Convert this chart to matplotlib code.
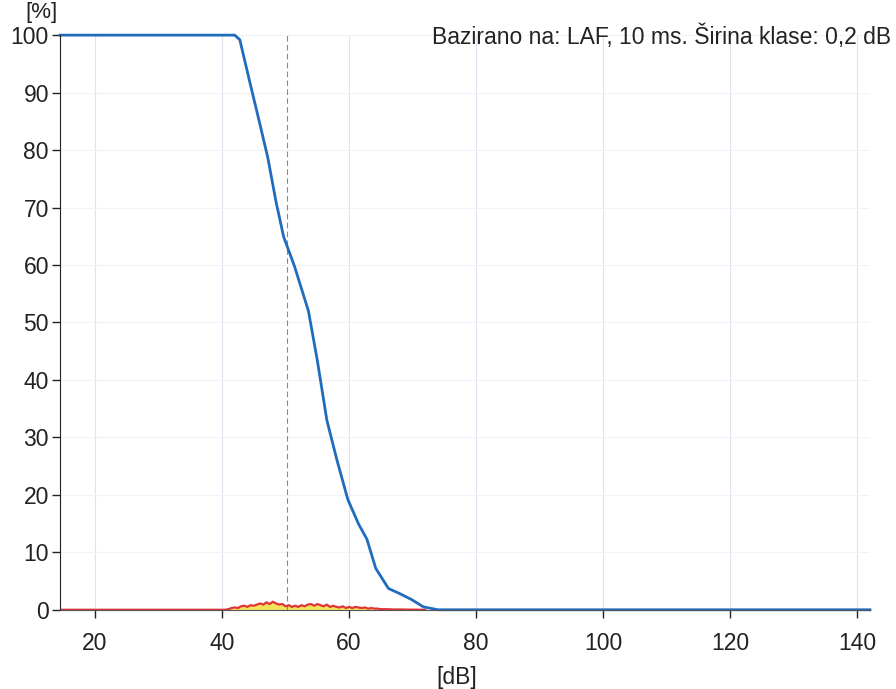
import matplotlib.pyplot as plt

# cumulative distribution [%] vs level [dB]
cum_db = [14.5, 30, 42.0, 42.8, 44.4, 45.9, 47.2, 48.5, 49.7, 51.4, 53.6, 55.0, 56.5,
          58.1, 59.8, 61.5, 62.8, 64.2, 66.2, 67.8, 69.8, 71.7, 74, 100, 142]
cum_pct = [100, 100, 100, 99.2, 91.7, 84.8, 78.7, 71.0, 64.9, 59.8, 52.0, 43.4, 33.0,
           26.0, 19.2, 14.9, 12.3, 7.2, 3.7, 2.9, 1.8, 0.5, 0, 0, 0]

# class distribution [%]
dist_db = [14.5, 40.5, 41, 41.5, 42, 42.5, 43, 43.5, 44, 44.5, 45, 45.5, 46, 46.5, 47,
           47.5, 48, 48.5, 49, 49.5, 50, 50.5, 51, 51.5, 52, 52.5, 53, 53.5, 54, 54.5,
           55, 55.5, 56, 56.5, 57, 57.5, 58, 58.5, 59, 59.5, 60, 60.5, 61, 61.5, 62,
           62.5, 63, 63.5, 64, 64.5, 65, 66, 67, 68, 70, 72]
dist_pct = [0, 0, 0.1, 0.3, 0.4, 0.3, 0.6, 0.7, 0.5, 0.8, 0.7, 0.9, 1.1, 0.9, 1.3,
            1.0, 1.4, 1.1, 0.9, 1.0, 0.6, 0.8, 0.5, 0.7, 0.5, 0.8, 0.6, 0.9, 1.0, 0.7,
            1.0, 0.8, 0.6, 0.9, 0.5, 0.7, 0.5, 0.4, 0.6, 0.3, 0.5, 0.3, 0.5, 0.4, 0.3,
            0.4, 0.2, 0.3, 0.2, 0.2, 0.1, 0.1, 0.05, 0.05, 0.02, 0]

marker_db = 50.3

plt.rcParams['font.family'] = ['Liberation Sans', 'DejaVu Sans']
dpi = 100
fig = plt.figure(figsize=(896 / dpi, 689 / dpi), dpi=dpi)
ax = fig.add_axes([0.067, 0.115, 0.904, 0.834])

ax.set_xlim(14.5, 142)
ax.set_ylim(0, 100)
ax.set_xticks([20, 40, 60, 80, 100, 120, 140])
ax.set_yticks(range(0, 101, 10))
ax.grid(True, axis='x', color='#dde3ef', linewidth=0.8)
ax.grid(True, axis='y', color='#f0f2f7', linewidth=0.8)

ax.axvline(marker_db, color='#8a8a8a', linewidth=0.8, linestyle=(0, (5, 3)))

ax.fill_between(dist_db, dist_pct, color='#f3e35a', linewidth=0)
ax.plot(dist_db, dist_pct, color='#e03535', linewidth=1.6)
ax.plot(cum_db, cum_pct, color='#1f6cbf', linewidth=2.0, clip_on=False)

for s in ['top', 'right']:
    ax.spines[s].set_visible(False)
ax.spines['left'].set_color('#222222')
ax.spines['bottom'].set_color('#555555')
ax.tick_params(axis='both', labelsize=16.5, colors='#222222', length=6, width=1)
ax.tick_params(axis='y', pad=2)
ax.tick_params(axis='x', pad=10)

fig.text(0.028, 0.982, '[%]', fontsize=16, color='#222222', ha='left', va='center')
fig.text(0.51, 0.0, '[dB]', fontsize=16.5, color='#222222', ha='center', va='bottom')
fig.text(0.995, 0.946, 'Bazirano na: LAF, 10 ms. Širina klase: 0,2 dB', fontsize=16.5,
         color='#222222', ha='right', va='center')

fig.savefig('out.png', dpi=dpi)
